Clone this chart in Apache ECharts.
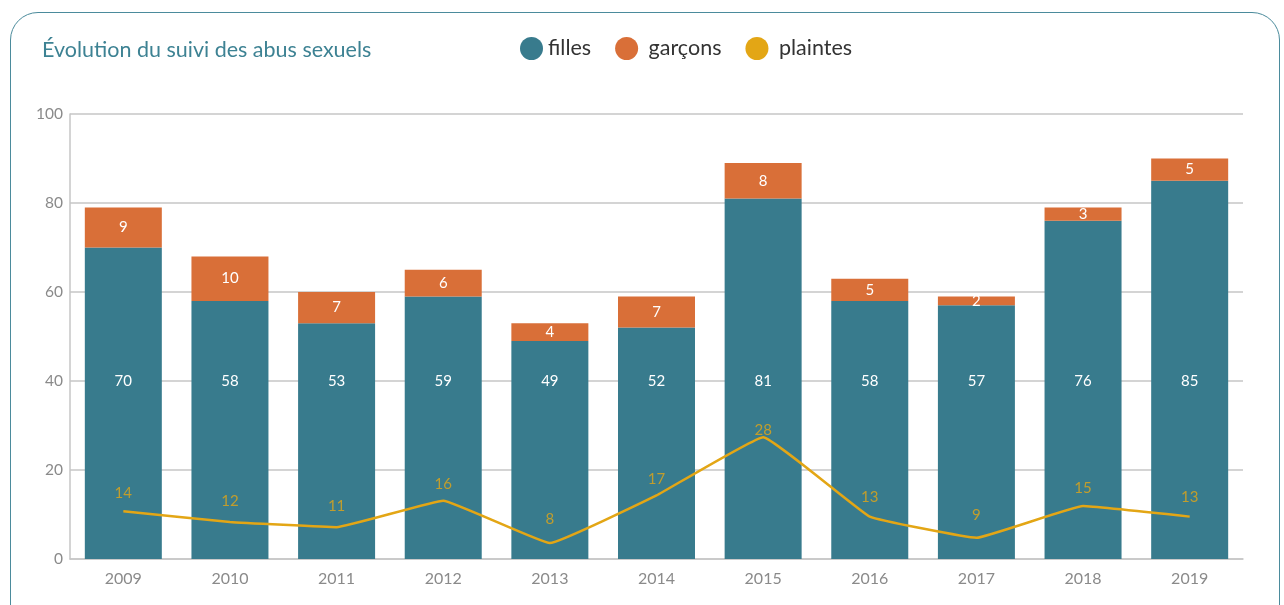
<!DOCTYPE html>
<html>
<head>
<meta charset="utf-8">
<script src="https://cdn.jsdelivr.net/npm/echarts@6/dist/echarts.min.js"></script>
<style>
  html, body { margin: 0; padding: 0; background: #fff; overflow: hidden; }
  .card {
    position: absolute; left: 10px; top: 12px; width: 1270px; height: 700px;
    border: 1.5px solid #4b8b9c; border-radius: 28px; box-sizing: border-box;
  }
  #chart { position: absolute; left: 0; top: 0; width: 1284px; height: 605px; }
</style>
</head>
<body>
<div class="card"></div>
<div id="chart"></div>
<script>
const years = ["2009", "2010", "2011", "2012", "2013", "2014", "2015", "2016", "2017", "2018", "2019"];
const filles = [70, 58, 53, 59, 49, 52, 81, 58, 57, 76, 85];
const garcons = [9, 10, 7, 6, 4, 7, 8, 5, 2, 3, 5];
const plaintes = [14, 12, 11, 16, 8, 17, 28, 13, 9, 15, 13];

const teal = "#387b8d";
const orange = "#d96f38";
const gold = "#e3a615";
const font = "Lato, 'Noto Sans', sans-serif";

const chart = echarts.init(document.getElementById("chart"));
chart.setOption({
  animation: false,
  textStyle: { fontFamily: font },
  title: {
    text: "Évolution du suivi des abus sexuels",
    left: 37, top: 34,
    textStyle: { color: "#3d8293", fontSize: 21.5, fontWeight: "normal", fontFamily: font }
  },
  legend: {
    left: 515, top: 32,
    icon: "circle", itemWidth: 23, itemHeight: 23, itemGap: 24,
    formatter: name => (name === "filles" ? name : " " + name),
    textStyle: { color: "#333", fontSize: 21.5, fontFamily: font },
    data: ["filles", "garçons", "plaintes"]
  },
  grid: { left: 70, right: 41, top: 114, bottom: 46 },
  xAxis: {
    type: "category",
    data: years,
    axisTick: { show: false },
    axisLine: { lineStyle: { color: "#c6c6c6", width: 1.5 } },
    axisLabel: { color: "#8a8a8a", fontSize: 16, margin: 12 }
  },
  yAxis: [
    {
      type: "value", min: 0, max: 100, interval: 20,
      axisLine: { show: true, lineStyle: { color: "#c6c6c6", width: 1.5 } },
      splitLine: { lineStyle: { color: "#c6c6c6", width: 1.5 } },
      axisLabel: { color: "#8a8a8a", fontSize: 15.5, margin: 7 }
    },
    {
      // échelle secondaire de la courbe des plaintes (non affichée)
      type: "value", min: 5, max: 89, show: false, splitLine: { show: false }
    }
  ],
  series: [
    {
      name: "filles", type: "bar", stack: "total", barWidth: 77,
      itemStyle: { color: teal },
      label: { show: true, position: "insideBottom", distance: 170, color: "#fff", fontSize: 15 },
      data: filles
    },
    {
      name: "garçons", type: "bar", stack: "total",
      itemStyle: { color: orange },
      label: { show: true, position: "inside", color: "#fff", fontSize: 15 },
      data: garcons
    },
    {
      name: "plaintes", type: "line", yAxisIndex: 1,
      smooth: 0.08, symbol: "none",
      lineStyle: { color: gold, width: 2.5 },
      itemStyle: { color: gold },
      data: plaintes
    },
    {
      // étiquettes des plaintes, placées sur l'échelle principale
      name: "plaintes-labels", type: "scatter", symbolSize: 0,
      silent: true,
      label: { show: true, position: "inside", offset: [0, -4], color: gold, fontSize: 15 },
      data: plaintes
    }
  ]
});
</script>
</body>
</html>
